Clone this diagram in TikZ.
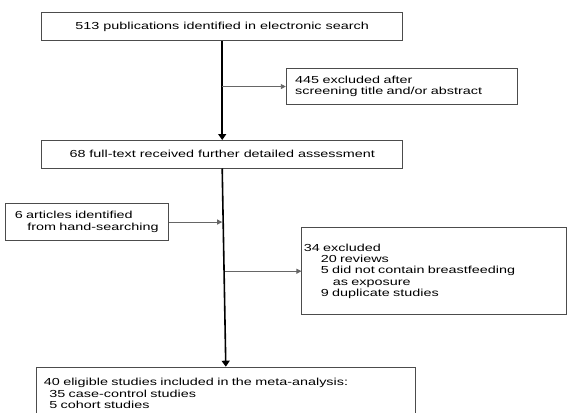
\documentclass[tikz,border=0pt]{standalone}
\usepackage{fontspec}
\setmainfont[FakeStretch=1.41]{Liberation Sans}
\usetikzlibrary{arrows.meta}

\begin{document}
\begin{tikzpicture}[x=1pt,y=-1pt,
    every node/.style={font=\fontsize{10.2}{11.4}\selectfont},
    box/.style={draw=black!70,line width=0.8pt,rectangle,anchor=north west,inner ysep=0pt},
    mainline/.style={line width=1.6pt,-{Triangle[length=6pt,width=8pt]}},
    sideline/.style={draw=black!60,line width=0.9pt,-{Triangle[length=5pt,width=5pt]}}]
    \useasboundingbox (0,0) rectangle (567,412);
    \clip (0,0) rectangle (567,412);

    \node[box,minimum width=361pt,minimum height=28pt] (search) at (41.3,12.3) {513 publications identified in electronic search};
    \node[box,minimum width=230.8pt,minimum height=35.7pt,inner xsep=9pt,text width=212.8pt,align=left] (screen) at (285.8,68.3)
        {445 excluded after\\screening title and/or abstract};
    \node[box,minimum width=361pt,minimum height=27.7pt] (fulltext) at (41.3,140) {68 full-text received further detailed assessment};
    \node[box,minimum width=162.8pt,minimum height=36.7pt,inner xsep=9pt,text width=144.8pt,align=left] (hand) at (5.4,203.3)
        {6 articles identified\\\hspace*{12.5pt}from hand-searching};
    \node[box,minimum width=264.6pt,minimum height=87pt,inner xsep=2pt,text width=260.6pt,align=left] (excluded) at (301.4,227.3)
        {34 excluded\\\hspace*{17pt}20 reviews\\\hspace*{17pt}5 did not contain breastfeeding\\\hspace*{29pt}as exposure\\\hspace*{17pt}9 duplicate studies};
    \node[box,minimum width=379.8pt,inner xsep=8pt,inner ysep=11.5pt,text width=363.8pt,text depth=40pt,align=left] (eligible) at (35.5,366.7)
        {40 eligible studies included in the meta-analysis:\\\hspace*{5.4pt}35 case-control studies\\\hspace*{5.4pt}5 cohort studies};

    \coordinate (j1) at (search.south |- screen.west);
    \coordinate (j2) at (fulltext.south |- hand.east);
    \coordinate (j3) at (fulltext.south |- excluded.west);

    \draw[mainline] (search.south) -- (fulltext.north);
    \draw[sideline] (j1) -- (screen.west);
    \draw[mainline] (fulltext.south) -- (eligible.north);
    \draw[sideline] (hand.east) -- (j2);
    \draw[sideline] ([xshift=3pt]j3) -- (excluded.west);
\end{tikzpicture}
\end{document}
